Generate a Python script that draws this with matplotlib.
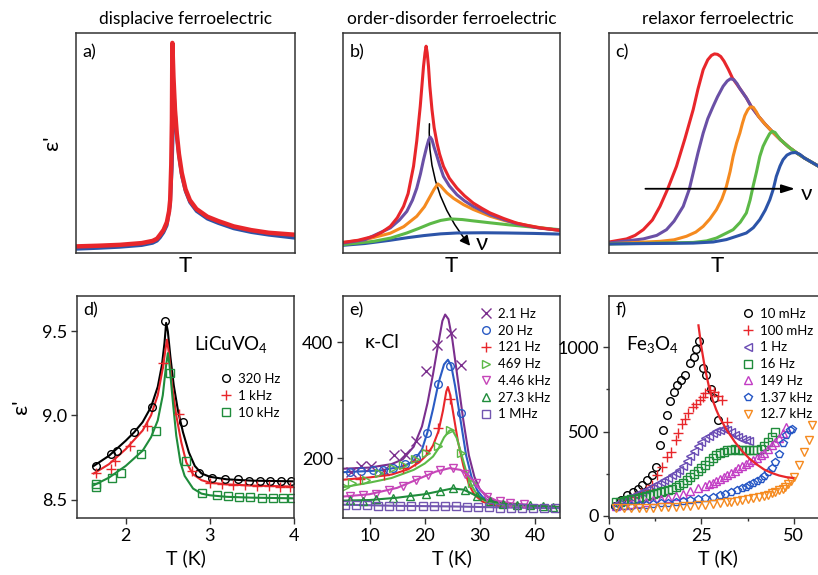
import matplotlib.pyplot as plt
from matplotlib.patches import FancyArrowPatch

plt.rcParams['font.family'] = ['Lato', 'DejaVu Sans']
plt.rcParams['mathtext.fontset'] = 'custom'
plt.rcParams['mathtext.rm'] = 'Lato'
plt.rcParams['mathtext.it'] = 'Lato:italic'

# --- schematic curves (normalised T, normalised eps') ---
a_red_x = [0, 0.10, 0.20, 0.30, 0.35, 0.37, 0.384, 0.40, 0.415, 0.425, 0.43, 0.435, 0.438, 0.44,
           0.445, 0.452, 0.46, 0.47, 0.483, 0.50, 0.52, 0.55, 0.60, 0.65, 0.72, 0.80, 0.88, 1.0]
a_red_y = [0.030, 0.033, 0.037, 0.045, 0.055, 0.065, 0.083, 0.105, 0.14, 0.19, 0.24, 0.40, 0.60, 0.955,
           0.80, 0.65, 0.545, 0.45, 0.364, 0.29, 0.24, 0.20, 0.165, 0.145, 0.121, 0.104, 0.092, 0.083]
a_blue_x = [0, 0.10, 0.20, 0.30, 0.35, 0.37, 0.384, 0.40, 0.415, 0.43, 0.438, 0.443, 0.448,
            0.452, 0.46, 0.47, 0.483, 0.50, 0.52, 0.55, 0.60, 0.65, 0.72, 0.80, 0.88, 1.0]
a_blue_y = [0.018, 0.022, 0.027, 0.035, 0.045, 0.055, 0.07, 0.093, 0.125, 0.22, 0.38, 0.55, 0.72,
            0.65, 0.53, 0.44, 0.35, 0.28, 0.23, 0.19, 0.155, 0.135, 0.111, 0.094, 0.082, 0.068]

b_red_x = [0, 0.07, 0.141, 0.18, 0.218, 0.25, 0.279, 0.30, 0.325, 0.34, 0.356, 0.371, 0.378, 0.383,
           0.388, 0.394, 0.40, 0.41, 0.42, 0.433, 0.445, 0.463, 0.49, 0.525, 0.56, 0.60, 0.64, 0.678,
           0.74, 0.80, 0.85, 0.908, 1.0]
b_red_y = [0.048, 0.058, 0.076, 0.095, 0.121, 0.16, 0.212, 0.27, 0.394, 0.51, 0.667, 0.848, 0.91, 0.94,
           0.91, 0.848, 0.76, 0.652, 0.57, 0.50, 0.45, 0.394, 0.34, 0.295, 0.26, 0.227, 0.203, 0.182,
           0.157, 0.136, 0.125, 0.114, 0.103]
b_purple_x = [0, 0.1, 0.218, 0.26, 0.294, 0.32, 0.34, 0.357, 0.371, 0.385, 0.395, 0.402, 0.41, 0.42,
              0.433, 0.445, 0.463, 0.49, 0.525, 0.56, 0.60, 0.678, 0.74, 0.80, 0.90, 1.0]
b_purple_y = [0.045, 0.06, 0.114, 0.15, 0.189, 0.24, 0.295, 0.36, 0.424, 0.48, 0.515, 0.527, 0.515, 0.48,
              0.44, 0.40, 0.348, 0.305, 0.265, 0.237, 0.212, 0.174, 0.152, 0.133, 0.114, 0.103]
b_orange_x = [0, 0.1, 0.218, 0.28, 0.34, 0.375, 0.402, 0.42, 0.437, 0.45, 0.465, 0.479, 0.51, 0.555,
              0.60, 0.678, 0.75, 0.831, 0.91, 1.0]
b_orange_y = [0.048, 0.06, 0.09, 0.12, 0.167, 0.21, 0.258, 0.29, 0.314, 0.305, 0.288, 0.273, 0.248, 0.22,
              0.198, 0.167, 0.146, 0.129, 0.115, 0.102]
b_green_x = [0, 0.141, 0.22, 0.294, 0.35, 0.402, 0.45, 0.494, 0.55, 0.60, 0.68, 0.755, 0.88, 1.0]
b_green_y = [0.038, 0.053, 0.068, 0.091, 0.112, 0.133, 0.148, 0.155, 0.152, 0.146, 0.137, 0.129, 0.117, 0.106]
b_blue_x = [0, 0.1, 0.218, 0.30, 0.371, 0.45, 0.525, 0.65, 0.755, 0.88, 1.0]
b_blue_y = [0.035, 0.043, 0.058, 0.07, 0.079, 0.087, 0.091, 0.092, 0.091, 0.089, 0.086]

c_red_x = [0, 0.081, 0.12, 0.158, 0.20, 0.235, 0.27, 0.311, 0.35, 0.388, 0.41, 0.434, 0.455, 0.472,
           0.486, 0.50, 0.515, 0.53, 0.55, 0.569, 0.60, 0.633, 0.656, 0.69, 0.72, 0.752, 0.79, 0.83,
           0.865, 0.90, 0.942, 1.0]
c_red_y = [0.05, 0.064, 0.08, 0.106, 0.15, 0.212, 0.29, 0.394, 0.52, 0.652, 0.745, 0.833, 0.878, 0.898,
           0.905, 0.903, 0.893, 0.872, 0.835, 0.795, 0.752, 0.705, 0.665, 0.62, 0.585, 0.552, 0.515, 0.48,
           0.455, 0.432, 0.408, 0.375]
c_purple_x = [0, 0.158, 0.22, 0.265, 0.30, 0.342, 0.37, 0.388, 0.41, 0.434, 0.455, 0.48, 0.50, 0.526,
              0.545, 0.56, 0.575, 0.59, 0.60, 0.633, 0.656, 0.69, 0.72, 0.752, 0.79, 0.83, 0.865, 0.90,
              0.942, 1.0]
c_purple_y = [0.045, 0.064, 0.08, 0.106, 0.145, 0.212, 0.29, 0.364, 0.455, 0.545, 0.61, 0.667, 0.71, 0.758,
              0.782, 0.792, 0.788, 0.77, 0.752, 0.705, 0.665, 0.62, 0.585, 0.552, 0.515, 0.48, 0.455, 0.432,
              0.408, 0.375]
c_orange_x = [0, 0.235, 0.30, 0.357, 0.40, 0.434, 0.465, 0.495, 0.52, 0.541, 0.558, 0.572, 0.588, 0.603,
              0.615, 0.626, 0.64, 0.652, 0.665, 0.68, 0.69, 0.72, 0.752, 0.79, 0.83, 0.865, 0.90, 0.942, 1.0]
c_orange_y = [0.042, 0.053, 0.06, 0.076, 0.095, 0.121, 0.155, 0.197, 0.245, 0.303, 0.37, 0.439, 0.50, 0.545,
              0.59, 0.625, 0.652, 0.664, 0.662, 0.64, 0.62, 0.585, 0.552, 0.515, 0.48, 0.455, 0.432, 0.408, 0.375]
c_green_x = [0, 0.388, 0.45, 0.495, 0.54, 0.572, 0.605, 0.633, 0.65, 0.664, 0.68, 0.695, 0.71, 0.725,
             0.74, 0.752, 0.765, 0.79, 0.83, 0.865, 0.90, 0.942, 1.0]
c_green_y = [0.041, 0.048, 0.055, 0.068, 0.09, 0.106, 0.14, 0.182, 0.24, 0.303, 0.37, 0.439, 0.485, 0.515,
             0.542, 0.553, 0.548, 0.515, 0.48, 0.455, 0.432, 0.408, 0.375]
c_blue_x = [0, 0.388, 0.48, 0.541, 0.60, 0.633, 0.665, 0.695, 0.72, 0.741, 0.757, 0.771, 0.788, 0.802,
            0.82, 0.84, 0.86, 0.88, 0.90, 0.942, 1.0]
c_blue_y = [0.041, 0.045, 0.05, 0.061, 0.08, 0.091, 0.115, 0.152, 0.195, 0.242, 0.29, 0.348, 0.395, 0.424,
            0.445, 0.455, 0.457, 0.448, 0.432, 0.408, 0.375]

# --- d) LiCuVO4 ---
d_320_x = [1.64, 1.83, 1.90, 2.10, 2.31, 2.47, 2.68, 2.87, 3.02, 3.18, 3.33, 3.46, 3.59, 3.71, 3.84, 3.97]
d_320_y = [8.70, 8.77, 8.79, 8.90, 9.05, 9.56, 8.96, 8.66, 8.63, 8.62, 8.62, 8.61, 8.61, 8.61, 8.61, 8.61]
d_1k_x = [1.64, 1.82, 1.87, 2.05, 2.25, 2.44, 2.63, 2.79, 3.00, 3.14, 3.28, 3.42, 3.56, 3.70, 3.83, 3.95]
d_1k_y = [8.66, 8.68, 8.73, 8.82, 8.94, 9.31, 9.01, 8.67, 8.60, 8.595, 8.589, 8.585, 8.581, 8.579, 8.577, 8.575]
d_10k_x = [1.64, 1.65, 1.84, 1.94, 2.18, 2.36, 2.53, 2.72, 2.91, 3.08, 3.22, 3.35, 3.48, 3.62, 3.75, 3.87, 3.98]
d_10k_y = [8.595, 8.577, 8.625, 8.66, 8.77, 8.91, 9.25, 8.73, 8.54, 8.525, 8.518, 8.516, 8.512, 8.51, 8.51, 8.508, 8.508]

d_fit320_x = [1.62, 1.8, 2.0, 2.1, 2.2, 2.3, 2.38, 2.43, 2.46, 2.48, 2.50, 2.53, 2.57, 2.62, 2.68, 2.75, 2.82, 2.9, 3.0, 3.2, 3.5, 4.0]
d_fit320_y = [8.70, 8.76, 8.85, 8.90, 8.96, 9.05, 9.17, 9.30, 9.43, 9.55, 9.50, 9.35, 9.18, 9.03, 8.90, 8.78, 8.70, 8.655, 8.635, 8.62, 8.612, 8.608]
d_fit1k_x = [1.62, 1.8, 2.0, 2.2, 2.3, 2.38, 2.44, 2.48, 2.49, 2.51, 2.55, 2.6, 2.66, 2.72, 2.8, 2.9, 3.0, 3.2, 3.5, 4.0]
d_fit1k_y = [8.655, 8.71, 8.80, 8.91, 9.00, 9.12, 9.28, 9.42, 9.45, 9.38, 9.18, 9.0, 8.84, 8.72, 8.65, 8.615, 8.60, 8.59, 8.583, 8.577]
d_fit10k_x = [1.62, 1.8, 2.0, 2.2, 2.3, 2.38, 2.44, 2.48, 2.50, 2.52, 2.56, 2.6, 2.65, 2.7, 2.8, 2.9, 3.0, 3.2, 3.5, 4.0]
d_fit10k_y = [8.585, 8.63, 8.70, 8.79, 8.87, 8.97, 9.12, 9.30, 9.37, 9.30, 9.08, 8.88, 8.72, 8.64, 8.565, 8.535, 8.525, 8.516, 8.511, 8.507]

# --- e) kappa-Cl ---
e_2hz_x = [6.7, 8.5, 10.3, 12.7, 14.5, 16.5, 18.5, 20.3, 22.2, 24.7, 26.6]
e_2hz_y = [177, 186, 187, 180, 206, 208, 229, 351, 395, 416, 361]
e_20hz_x = [6.4, 8.5, 10.6, 12.4, 14.2, 16.4, 18.5, 20.5, 22.4, 24.5, 26.5]
e_20hz_y = [176, 178, 179, 180, 184, 190, 200, 244, 328, 360, 278]
e_121hz_x = [8.2, 12.7, 16.1, 18.2, 20.3, 22.4, 24.5]
e_121hz_y = [165, 171, 184, 196, 214, 253, 302]
e_469hz_x = [5.6, 6.9, 9.4, 11.8, 14.2, 16.1, 18.2, 20.3, 22.4, 24.5, 26.5, 28.5]
e_469hz_y = [150, 157, 162, 174, 183, 189, 198, 209, 222, 248, 210, 157]
e_4k_x = [6.4, 8.8, 11.2, 13.6, 16.1, 18.5, 20.6, 22.7, 25.1, 27.3, 29.2, 31.2, 33.6, 35.5, 37.9]
e_4k_y = [135, 137, 139, 145, 153, 163, 171, 180, 184, 173, 158, 134, 126, 123, 122]
e_27k_x = [6.4, 8.8, 11.2, 14.2, 17.3, 20.3, 22.7, 25.1, 27.3, 29.4, 31.8, 34.2, 36.7, 39.1, 41.5, 43.3]
e_27k_y = [128, 126, 129, 132, 135, 139, 143, 149, 145, 135, 126, 122, 120, 119, 118, 116]
e_1m_x = [5.6, 7.6, 9.6, 11.6, 13.6, 15.6, 17.6, 19.6, 21.6, 23.6, 25.6, 27.6, 29.6, 31.6, 33.6, 35.6, 37.6, 39.6, 41.6, 43.6]
e_1m_y = [120, 119, 119, 118, 118, 118, 117, 117, 117, 117, 117, 116, 116, 116, 115, 115, 115, 115, 114, 114]

e_fit2hz_x = [5.2, 10, 14, 16, 18, 19.5, 20.5, 21.5, 22.5, 23.2, 23.7, 24.3, 25, 26, 27, 28, 29, 30, 32, 35, 40, 44.5]
e_fit2hz_y = [182, 184, 190, 198, 220, 255, 295, 345, 400, 437, 448, 440, 405, 335, 265, 205, 168, 146, 128, 120, 117, 115]
e_fit20hz_x = [5.2, 12, 16, 18, 19.5, 20.5, 21.5, 22.5, 23.5, 24.2, 24.8, 25.5, 26.5, 27.5, 28.5, 29.5, 30.5, 32, 35, 40, 44.5]
e_fit20hz_y = [176, 179, 186, 195, 215, 245, 285, 330, 362, 370, 360, 325, 265, 205, 167, 145, 133, 124, 118, 116, 115]
e_fit121_x = [5.2, 10, 14, 17, 19, 20.5, 21.5, 22.5, 23.3, 23.9, 24.2, 24.6, 25.3, 26, 27, 28, 29, 30.5, 33, 38, 44.5]
e_fit121_y = [163, 167, 172, 181, 193, 207, 222, 247, 282, 315, 323, 310, 270, 230, 187, 155, 137, 125, 118, 116, 115]
e_fit469_x = [5.2, 10, 14, 18, 20, 21.5, 22.5, 23.5, 24.5, 25, 25.8, 26.5, 27.5, 28.5, 29.5, 31, 34, 38, 44.5]
e_fit469_y = [150, 158, 166, 180, 191, 203, 217, 236, 248, 249, 235, 212, 178, 153, 137, 126, 119, 116, 115]
e_fit4k_x = [5.2, 10, 15, 19, 22, 24.5, 26.5, 28, 29.5, 31, 33, 36, 40, 44.5]
e_fit4k_y = [134, 138, 149, 165, 177, 183, 180, 170, 152, 136, 127, 122, 119, 116]
e_fit27k_x = [5.2, 10, 15, 20, 23, 25, 27, 29, 31, 34, 38, 44.5]
e_fit27k_y = [127, 128, 132, 138, 144, 148, 146, 137, 128, 122, 119, 116]
e_fit1m_x = [5.2, 15, 25, 35, 44.5]
e_fit1m_y = [120, 118, 117, 115, 114]

# --- f) Fe3O4 ---
f_10m_x = [1.6, 3.2, 5.0, 6.5, 7.8, 9.0, 10.4, 11.5, 12.8, 13.8, 14.7, 15.6, 16.6, 17.6, 18.5, 19.4,
           20.6, 21.9, 23.0, 23.6, 24.4, 25.4, 26.2, 27.6, 28.5, 29.5]
f_10m_y = [62, 94, 124, 140, 158, 183, 213, 240, 291, 419, 508, 596, 680, 732, 777, 806,
           836, 905, 944, 988, 1039, 880, 833, 751, 700, 568]
f_100m_x = [2.7, 5.0, 6.8, 8.6, 9.9, 11.5, 13.1, 14.4, 15.8, 16.7, 18.0, 18.8, 19.7, 20.6, 21.5,
            22.6, 23.6, 24.5, 25.3, 26.1, 27.2, 28.4, 29.5, 30.6, 31.8]
f_100m_y = [75, 94, 114, 134, 154, 184, 243, 292, 351, 381, 450, 490, 545, 575, 608,
            644, 664, 688, 707, 727, 747, 737, 711, 688, 560]
f_1hz_x = [2, 3, 4, 5, 6, 7, 8, 9, 10, 11, 12, 13, 14, 15, 16, 17, 18, 19, 20, 21, 22, 23, 24, 25,
           26, 27, 28, 29, 30, 31, 32, 33, 34, 35, 36, 37, 38]
f_1hz_y = [70, 84, 95, 105, 115, 125, 135, 145, 155, 165, 175, 188, 200, 212, 225, 240, 255, 273,
           295, 325, 355, 385, 415, 440, 460, 476, 490, 501, 510, 514, 512, 498, 482, 468, 455, 449, 445]
f_16hz_x = [2, 3, 4, 5, 6, 7, 8, 9, 10, 11, 12, 13, 14, 15, 16, 17, 18, 19, 20, 21, 22, 23, 24,
            25, 26, 27, 28, 29, 30, 31, 32, 33, 34, 35, 36, 37, 38, 39, 40, 41, 42, 43, 44, 45]
f_16hz_y = [80, 85, 90, 94, 98, 103, 108, 113, 118, 123, 128, 134, 140, 147, 155, 162, 170, 182,
            195, 212, 230, 249, 268, 286, 305, 325, 345, 360, 372, 382, 390, 394, 396, 394, 392, 390,
            390, 391, 392, 396, 412, 438, 468, 498]
f_149hz_x = [2, 4, 6, 8, 10, 12, 14, 16, 18, 20, 22, 24, 26, 27, 28, 29, 30, 31, 32, 33, 34, 35, 36,
             37, 38, 39, 40, 41, 42, 43, 44, 45, 46, 47, 48]
f_149hz_y = [62, 67, 72, 78, 85, 92, 100, 109, 118, 132, 148, 164, 180, 189, 198, 208, 218, 230, 242,
             255, 268, 282, 295, 308, 320, 333, 345, 360, 375, 397, 419, 440, 462, 490, 528]
f_137k_x = [2, 4, 6, 8, 10, 12, 14, 16, 18, 20, 22, 24, 26, 28, 30, 31.5, 33, 34.5, 36, 37, 38, 39,
            40, 41, 42, 43, 44, 45, 46, 47, 48, 49, 49.6]
f_137k_y = [55, 57, 60, 63, 66, 70, 75, 79, 83, 87, 92, 98, 104, 112, 122, 131, 140, 152, 165, 173,
            182, 193, 205, 220, 235, 258, 285, 320, 365, 430, 480, 510, 518]
f_127k_x = [2, 4, 6, 8, 10, 12, 14, 16, 18, 20, 22, 24, 26, 28, 30, 32, 33, 34.5, 36, 37.5, 39, 40.5,
            42, 43, 44, 45, 46, 47, 47.7, 48.5, 49.3, 50, 51.4, 52.8, 54.1, 55]
f_127k_y = [45, 46, 47, 48, 49, 50, 52, 53, 55, 57, 60, 63, 66, 70, 75, 80, 83, 87, 92, 98, 105, 111,
            118, 124, 134, 143, 152, 162, 173, 188, 205, 232, 301, 380, 449, 537]
f_fit_x = [24.2, 25, 26, 27, 28, 29, 30, 32, 34, 36, 38, 40, 42, 44, 46, 48, 49.8]
f_fit_y = [1130, 1000, 870, 770, 690, 630, 580, 505, 440, 385, 340, 305, 275, 255, 240, 230, 225]

RED = '#e8262b'
PURPLE = '#6a50a6'
ORANGE = '#f58a1f'
GREEN = '#5cb947'
BLUE = '#2c54a8'
DKGREEN = '#1f8c3b'
MAGENTA = '#c645b8'
SPINE = '#333333'

W, H = 818, 575
fig = plt.figure(figsize=(W / 100, H / 100), dpi=100)


def box(x0, y0, x1, y1):
    return [x0 / W, 1 - y1 / H, (x1 - x0) / W, (y1 - y0) / H]


def style(ax):
    for s in ax.spines.values():
        s.set_color(SPINE)
        s.set_linewidth(1.1)


# ---------- top row: schematics ----------
ax_a = fig.add_axes(box(76, 33, 295, 253))
ax_b = fig.add_axes(box(343, 33, 560, 253))
ax_c = fig.add_axes(box(609, 33, 826, 253))
titles = ["displacive ferroelectric", "order-disorder ferroelectric", "relaxor ferroelectric"]
for ax, lab, ttl in zip([ax_a, ax_b, ax_c], ["a)", "b)", "c)"], titles):
    style(ax)
    ax.set_xlim(0, 1)
    ax.set_ylim(0, 1)
    ax.set_xticks([])
    ax.set_yticks([])
    ax.text(0.03, 0.95, lab, transform=ax.transAxes, fontsize=13, va='top', ha='left')
    ax.text(0.5, 1.065, ttl, transform=ax.transAxes, fontsize=12.5, va='center', ha='center')
    ax.set_xlabel("T", fontsize=16, labelpad=2)

ax_a.set_ylabel("ε'", fontsize=16, labelpad=10)
ax_a.plot(a_blue_x, a_blue_y, color=BLUE, lw=2.4, solid_capstyle='round')
ax_a.plot(a_red_x, a_red_y, color=RED, lw=3.2, solid_capstyle='round')

for xs, ys, col in [(b_blue_x, b_blue_y, BLUE), (b_green_x, b_green_y, GREEN),
                    (b_orange_x, b_orange_y, ORANGE), (b_purple_x, b_purple_y, PURPLE),
                    (b_red_x, b_red_y, RED)]:
    ax_b.plot(xs, ys, color=col, lw=2.2, solid_capstyle='round')
arr = FancyArrowPatch((0.399, 0.60), (0.594, 0.023), transform=ax_b.transAxes,
                      connectionstyle="arc3,rad=0.2", arrowstyle="-|>,head_length=6,head_width=3",
                      color='black', lw=1.1)
ax_b.add_patch(arr)
ax_b.text(0.61, 0.045, "ν", transform=ax_b.transAxes, fontsize=17, va='center', ha='left')

for xs, ys, col in [(c_red_x, c_red_y, RED), (c_purple_x, c_purple_y, PURPLE),
                    (c_orange_x, c_orange_y, ORANGE), (c_green_x, c_green_y, GREEN),
                    (c_blue_x, c_blue_y, BLUE)]:
    ax_c.plot(xs, ys, color=col, lw=2.2, solid_capstyle='round')
ax_c.annotate("", xy=(0.87, 0.292), xytext=(0.155, 0.292), xycoords='axes fraction',
              arrowprops=dict(arrowstyle="-|>,head_length=0.8,head_width=0.25", color='black', lw=1.3))
ax_c.text(0.882, 0.27, "ν", transform=ax_c.transAxes, fontsize=16, va='center', ha='left')

# ---------- bottom row: data ----------
ax_d = fig.add_axes(box(77, 296, 294, 518))
ax_e = fig.add_axes(box(343, 296, 560, 518))
ax_f = fig.add_axes(box(609, 296, 826, 518))
for ax, lab in zip([ax_d, ax_e, ax_f], ["d)", "e)", "f)"]):
    style(ax)
    ax.tick_params(direction='out', length=4, width=1, labelsize=13, color=SPINE, pad=3)
    ax.tick_params(which='minor', direction='out', length=2.5, width=1, color=SPINE)
    ax.text(0.03, 0.97, lab, transform=ax.transAxes, fontsize=13, va='top', ha='left')
    ax.set_xlabel("T (K)", fontsize=14, labelpad=4)

mk = dict(ls='none', mfc='none', ms=5.5, mew=1.0)
leg_kw = dict(loc='upper left', frameon=False, fontsize=9.5, handlelength=0.8, handletextpad=0.5,
              labelspacing=0.36, borderpad=0, borderaxespad=0)

# d)
ax_d.plot(d_fit320_x, d_fit320_y, color='black', lw=1.5)
ax_d.plot(d_fit1k_x, d_fit1k_y, color=RED, lw=1.5)
ax_d.plot(d_fit10k_x, d_fit10k_y, color=DKGREEN, lw=1.5)
ax_d.plot(d_320_x, d_320_y, marker='o', color='black', label='320 Hz', **mk)
ax_d.plot(d_1k_x, d_1k_y, marker='+', color=RED, label='1 kHz', **{**mk, 'ms': 7})
ax_d.plot(d_10k_x, d_10k_y, marker='s', color=DKGREEN, label='10 kHz', **mk)
ax_d.set_xlim(1.42, 4.0)
ax_d.set_ylim(8.39, 9.71)
ax_d.set_xticks([2, 3, 4])
ax_d.set_yticks([8.5, 9.0, 9.5])
ax_d.set_yticklabels(["8.5", "9.0", "9.5"])
ax_d.set_ylabel("ε'", fontsize=16, labelpad=8)
ax_d.text(0.54, 0.78, "LiCuVO$_4$", transform=ax_d.transAxes, fontsize=13.5, va='center', ha='left')
ax_d.legend(bbox_to_anchor=(0.661, 0.653), **leg_kw)

# e)
e_sets = [
    (e_2hz_x, e_2hz_y, e_fit2hz_x, e_fit2hz_y, 'x', '#7b2f8e', '2.1 Hz'),
    (e_20hz_x, e_20hz_y, e_fit20hz_x, e_fit20hz_y, 'o', '#2a5bc4', '20 Hz'),
    (e_121hz_x, e_121hz_y, e_fit121_x, e_fit121_y, '+', RED, '121 Hz'),
    (e_469hz_x, e_469hz_y, e_fit469_x, e_fit469_y, '>', GREEN, '469 Hz'),
    (e_4k_x, e_4k_y, e_fit4k_x, e_fit4k_y, 'v', MAGENTA, '4.46 kHz'),
    (e_27k_x, e_27k_y, e_fit27k_x, e_fit27k_y, '^', DKGREEN, '27.3 kHz'),
    (e_1m_x, e_1m_y, e_fit1m_x, e_fit1m_y, 's', '#7256b0', '1 MHz'),
]
for xs, ys, fx, fy, m, col, lab in e_sets:
    ax_e.plot(fx, fy, color=col, lw=1.5)
for xs, ys, fx, fy, m, col, lab in e_sets:
    ms = 7 if m in ('x', '+') else 5.5
    ax_e.plot(xs, ys, marker=m, color=col, label=lab, **{**mk, 'ms': ms})
ax_e.set_xlim(5.2, 44.5)
ax_e.set_ylim(97, 480)
ax_e.set_xticks([10, 20, 30, 40])
ax_e.set_yticks([200, 400])
ax_e.set_yticks([300], minor=True)
ax_e.text(0.1, 0.79, "κ-Cl", transform=ax_e.transAxes, fontsize=14, va='center', ha='left')
ax_e.legend(bbox_to_anchor=(0.634, 0.946), **leg_kw)

# f)
f_sets = [
    (f_10m_x, f_10m_y, 'o', 'black', '10 mHz'),
    (f_100m_x, f_100m_y, '+', RED, '100 mHz'),
    (f_1hz_x, f_1hz_y, '<', '#6a4cb4', '1 Hz'),
    (f_16hz_x, f_16hz_y, 's', DKGREEN, '16 Hz'),
    (f_149hz_x, f_149hz_y, '^', '#c23cc4', '149 Hz'),
    (f_137k_x, f_137k_y, 'p', '#2455c4', '1.37 kHz'),
    (f_127k_x, f_127k_y, 'v', ORANGE, '12.7 kHz'),
]
for xs, ys, m, col, lab in f_sets:
    ms = 7 if m == '+' else 5.5
    ax_f.plot(xs, ys, marker=m, color=col, label=lab, **{**mk, 'ms': ms})
ax_f.plot(f_fit_x, f_fit_y, color=RED, lw=1.6)
ax_f.set_xlim(0, 58.7)
ax_f.set_ylim(-12, 1304)
ax_f.set_xticks([0, 25, 50])
ax_f.set_xticks([12.5, 37.5], minor=True)
ax_f.set_yticks([0, 500, 1000])
ax_f.set_yticks([250, 750], minor=True)
ax_f.text(0.08, 0.78, "Fe$_3$O$_4$", transform=ax_f.transAxes, fontsize=13.5, va='center', ha='left')
ax_f.legend(bbox_to_anchor=(0.616, 0.946), **leg_kw)

fig.savefig("out.png", dpi=100)
